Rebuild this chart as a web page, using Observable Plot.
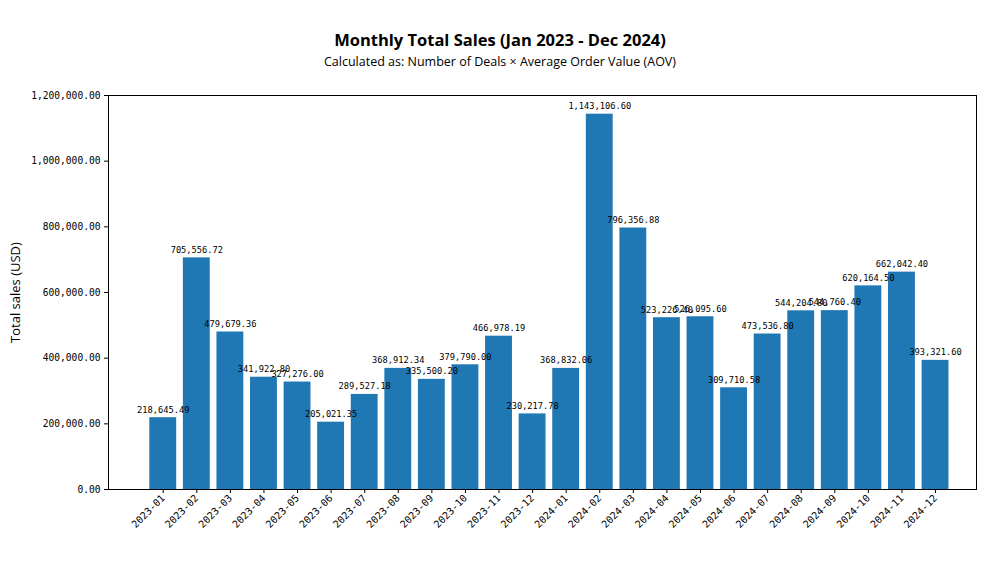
<!DOCTYPE html>
<html>
<head>
<meta charset="utf-8">
<script src="https://cdn.jsdelivr.net/npm/d3@7"></script>
<script src="https://cdn.jsdelivr.net/npm/@observablehq/plot@0.6"></script>
<style>
  html, body { margin: 0; padding: 0; background: #fff; }
  #wrap { width: 1000px; height: 563px; position: relative; overflow: hidden; }
  #head { height: 80px; text-align: center; font-family: "Open Sans", sans-serif; color: #000; }
  #title { padding-top: 29px; font-size: 16.5px; font-weight: 700; line-height: 22px; }
  #subtitle { margin-top: 2px; font-size: 12.5px; line-height: 17px; }
</style>
</head>
<body>
<div id="wrap">
  <div id="head">
    <div id="title">Monthly Total Sales (Jan 2023 - Dec 2024)</div>
    <div id="subtitle">Calculated as: Number of Deals × Average Order Value (AOV)</div>
  </div>
  <div id="chart"></div>
</div>
<script>
const months = [
  "2023-01","2023-02","2023-03","2023-04","2023-05","2023-06",
  "2023-07","2023-08","2023-09","2023-10","2023-11","2023-12",
  "2024-01","2024-02","2024-03","2024-04","2024-05","2024-06",
  "2024-07","2024-08","2024-09","2024-10","2024-11","2024-12"
];
const sales = [
  218645.49, 705556.72, 479679.36, 341922.80, 327276.00, 205021.35,
  289527.18, 368912.34, 335500.20, 379790.00, 466978.19, 230217.78,
  368832.06, 1143106.60, 796356.88, 523226.40, 526095.60, 309710.58,
  473536.80, 544204.80, 544760.40, 620164.50, 662042.40, 393321.60
];
const yTicks = [0, 200000, 400000, 600000, 800000, 1000000, 1200000];

const data = months.map((m, i) => ({month: m, sales: sales[i]}));
const fmt = d3.format(",.2f");
const mono = "'DejaVu Sans Mono', 'Liberation Mono', monospace";

const chart = Plot.plot({
  width: 1000,
  height: 483,
  marginLeft: 108,
  marginRight: 24,
  marginTop: 15,
  marginBottom: 74,
  style: {background: "#fff", color: "#000"},
  x: {type: "band", domain: months, paddingInner: 0.2, paddingOuter: 1.025, align: 0.6, round: false, label: null},
  y: {domain: [0, 1200000], label: null},
  marks: [
    Plot.barY(data, {x: "month", y: "sales", fill: "#1f77b4"}),
    Plot.text(data, {x: "month", y: "sales", text: d => fmt(d.sales), dy: -8,
      fontSize: 8.7, fontFamily: mono, fill: "#000"}),
    Plot.axisY({ticks: yTicks, tickFormat: fmt, tickSize: 4, tickPadding: 4,
      fontSize: 9.6, fontFamily: mono, label: null}),
    Plot.axisY({ticks: [], label: "Total sales (USD)", labelAnchor: "center", labelArrow: "none",
      labelOffset: 98, fontSize: 13, fontFamily: "'Open Sans', sans-serif"}),
    Plot.axisX({tickRotate: -45, tickSize: 4, tickPadding: 3, fontSize: 10,
      fontFamily: mono, label: null}),
    Plot.frame({stroke: "#000", strokeWidth: 1})
  ]
});
document.getElementById("chart").appendChild(chart);
</script>
</body>
</html>
